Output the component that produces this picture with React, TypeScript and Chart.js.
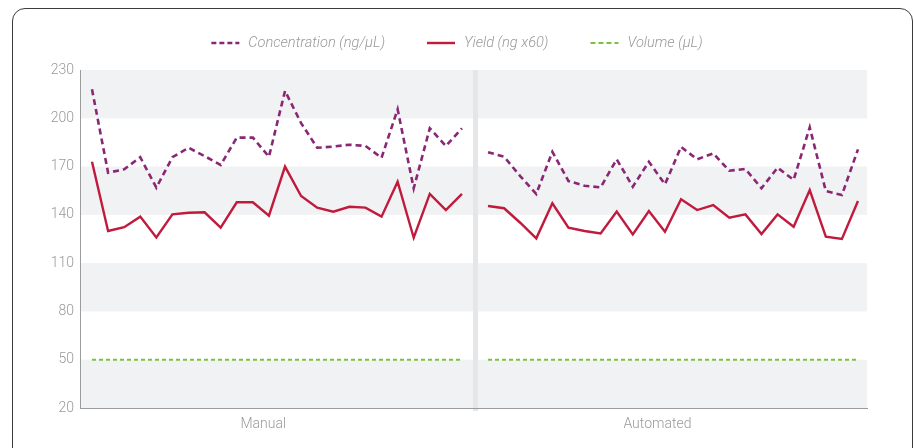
import React, { useEffect, useRef } from 'react';
import { Chart, registerables } from 'chart.js';

Chart.register(...registerables);

// ---- data ----
const GROUP_LABELS = ['Manual', 'Automated'];
const SERIES_NAMES = ['Concentration (ng/µL)', 'Yield (ng x60)', 'Volume (µL)'];

const CONCENTRATION_MANUAL = [218, 166.2, 168.3, 175.8, 156.9, 175.8, 181.7, 176.5, 171, 188, 188, 176.1, 217, 197, 181.7, 182.4, 183.6, 182.8, 175.5, 205.6, 156.5, 193.8, 182.8, 193.8];
const CONCENTRATION_AUTOMATED = [178.9, 176.1, 164.1, 153, 179.2, 161, 158.1, 157.1, 174.5, 157.5, 173, 159, 182.2, 174.5, 178.2, 167.4, 168.5, 156.5, 169.3, 161.7, 194.4, 154.8, 152.3, 180.7];

const YIELD_MANUAL = [173, 130, 132.3, 138.9, 126, 140.3, 141.3, 141.6, 132, 147.8, 147.8, 139.5, 170, 151.7, 144.5, 142, 145, 144.5, 138.9, 160.6, 125.8, 153, 143, 153];
const YIELD_AUTOMATED = [145.5, 144.1, 135.1, 125.4, 147.2, 132, 130, 128.5, 142, 127.9, 142.4, 129.5, 149.7, 143, 146.1, 138.2, 140.3, 128.1, 140.3, 132.6, 155.4, 126.4, 125, 148.6];

const VOLUME_MANUAL = [50, 50, 50, 50, 50, 50, 50, 50, 50, 50, 50, 50, 50, 50, 50, 50, 50, 50, 50, 50, 50, 50, 50, 50];
const VOLUME_AUTOMATED = [50, 50, 50, 50, 50, 50, 50, 50, 50, 50, 50, 50, 50, 50, 50, 50, 50, 50, 50, 50, 50, 50, 50, 50];

const Y_MIN = 20;
const Y_MAX = 230;
const Y_STEP = 30;

// ---- layout constants (sample-index units) ----
const AUTO_OFFSET = 24.62;
const SEPARATOR_X = 23.84;
const X_MIN = -0.746;
const X_MAX = 48.18;
const GROUP_LABEL_POS = [10.65, 35.15];

const COLORS = ['#8a2774', '#c01a3d', '#7cc242'];
const DASHES: number[][] = [[6, 4], [], [4, 3]];
const WIDTHS = [2.6, 2.4, 2];

const FONT = 'Roboto, "Liberation Sans", Arial, sans-serif';
const TEXT_GRAY = '#9a9a9a';

function buildPoints(a: number[], b: number[]) {
  const pts: { x: number; y: number | null }[] = [];
  a.forEach((v, i) => pts.push({ x: i, y: v }));
  pts.push({ x: SEPARATOR_X, y: null });
  b.forEach((v, i) => pts.push({ x: AUTO_OFFSET + i, y: v }));
  return pts;
}

const bandsPlugin = {
  id: 'bands',
  beforeDraw(chart: any) {
    const { ctx, chartArea } = chart;
    const y = chart.scales.y;
    const x = chart.scales.x;
    ctx.save();
    ctx.fillStyle = '#f1f2f4';
    for (let v = Y_MIN; v < Y_MAX; v += Y_STEP * 2) {
      const top = y.getPixelForValue(v + Y_STEP);
      const bot = y.getPixelForValue(v);
      ctx.fillRect(chartArea.left, top, chartArea.right - chartArea.left, bot - top);
    }
    // separator between groups
    const sx = x.getPixelForValue(SEPARATOR_X);
    ctx.fillStyle = '#e5e6e8';
    ctx.fillRect(sx - 2.5, chartArea.top, 5, chartArea.bottom - chartArea.top + 3);
    ctx.restore();
  },
};

const legendPlugin = {
  id: 'customLegend',
  afterDraw(chart: any) {
    const { ctx } = chart;
    const markerW = 28;
    const gap = 9;
    const spacing = 42;
    const yC = 43;
    ctx.save();
    ctx.font = `italic 300 14.6px ${FONT}`;
    const widths = SERIES_NAMES.map((s) => ctx.measureText(s).width);
    const total = widths.reduce((s, w) => s + markerW + gap + w, 0) + spacing * (SERIES_NAMES.length - 1);
    let x = chart.width / 2 - total / 2;
    SERIES_NAMES.forEach((name, i) => {
      ctx.beginPath();
      ctx.strokeStyle = COLORS[i];
      ctx.lineWidth = WIDTHS[i];
      ctx.setLineDash(DASHES[i].length ? [5, 3] : []);
      ctx.moveTo(x, yC);
      ctx.lineTo(x + markerW, yC);
      ctx.stroke();
      ctx.setLineDash([]);
      ctx.fillStyle = TEXT_GRAY;
      ctx.textBaseline = 'middle';
      ctx.textAlign = 'left';
      ctx.fillText(name, x + markerW + gap, yC);
      x += markerW + gap + widths[i] + spacing;
    });
    ctx.restore();
  },
};

export default function App() {
  const ref = useRef<HTMLCanvasElement>(null);

  useEffect(() => {
    document.body.style.margin = '0';
    const canvas = ref.current;
    if (!canvas) return;
    const series = [
      buildPoints(CONCENTRATION_MANUAL, CONCENTRATION_AUTOMATED),
      buildPoints(YIELD_MANUAL, YIELD_AUTOMATED),
      buildPoints(VOLUME_MANUAL, VOLUME_AUTOMATED),
    ];
    const chart = new Chart(canvas, {
      type: 'line',
      data: {
        datasets: series.map((data, i) => ({
          label: SERIES_NAMES[i],
          data,
          borderColor: COLORS[i],
          backgroundColor: COLORS[i],
          borderWidth: WIDTHS[i],
          borderDash: DASHES[i],
          pointRadius: 0,
          tension: 0,
          spanGaps: false,
          fill: false,
        })),
      },
      options: {
        animation: false,
        responsive: false,
        maintainAspectRatio: false,
        layout: { padding: { top: 70, left: 0, right: 47, bottom: 0 } },
        plugins: {
          legend: { display: false },
          tooltip: { enabled: false },
        },
        scales: {
          x: {
            type: 'linear',
            min: X_MIN,
            max: X_MAX,
            afterBuildTicks: (scale: any) => {
              scale.ticks = GROUP_LABEL_POS.map((v) => ({ value: v }));
            },
            afterFit: (scale: any) => {
              scale.height = 40;
            },
            grid: { display: false, drawTicks: false },
            border: { display: true, color: '#9c9c9c', width: 1 },
            ticks: {
              autoSkip: false,
              maxRotation: 0,
              padding: 8,
              color: TEXT_GRAY,
              font: { family: FONT, size: 14, weight: '300' as any },
              callback: (_v: any, idx: number) => GROUP_LABELS[idx],
            },
          },
          y: {
            min: Y_MIN,
            max: Y_MAX,
            afterFit: (scale: any) => {
              scale.width = 80;
            },
            grid: { display: false, drawTicks: false },
            border: { display: true, color: '#9c9c9c', width: 1 },
            ticks: {
              stepSize: Y_STEP,
              padding: 6,
              color: TEXT_GRAY,
              font: { family: FONT, size: 14, weight: '300' as any },
            },
          },
        },
      },
      plugins: [bandsPlugin, legendPlugin],
    });
    return () => chart.destroy();
  }, []);

  return (
    <div style={{ position: 'absolute', left: 0, top: 0, width: 914, height: 448, overflow: 'hidden', background: '#fff' }}>
      <div
        style={{
          position: 'absolute',
          left: 12,
          top: 8,
          width: 901,
          height: 460,
          border: '1.2px solid #3c3c3c',
          borderRadius: 13,
          boxSizing: 'border-box',
        }}
      />
      <canvas ref={ref} width={914} height={448} style={{ position: 'absolute', left: 0, top: 0, width: 914, height: 448 }} />
    </div>
  );
}
